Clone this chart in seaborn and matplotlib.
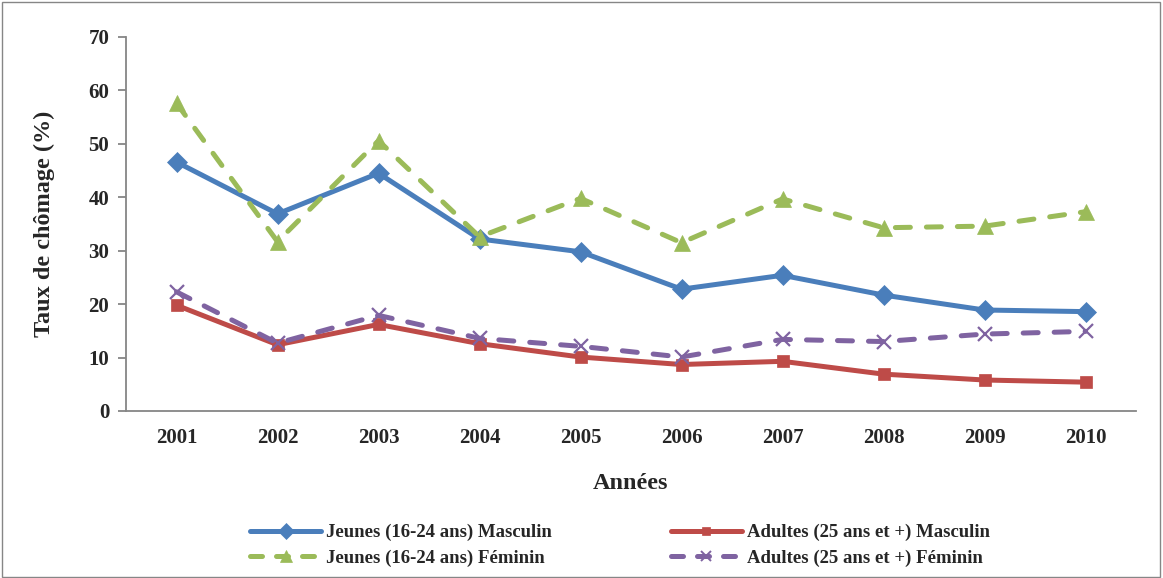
import matplotlib
matplotlib.use("Agg")
import matplotlib.pyplot as plt
from matplotlib.patches import Rectangle
from matplotlib.lines import Line2D
import pandas as pd
import seaborn as sns

years = ["2001", "2002", "2003", "2004", "2005", "2006", "2007", "2008", "2009", "2010"]
jeunes_masculin = [46.6, 36.9, 44.5, 32.2, 29.8, 22.8, 25.4, 21.7, 18.9, 18.6]
adultes_masculin = [19.8, 12.4, 16.2, 12.6, 10.1, 8.7, 9.3, 6.9, 5.8, 5.4]
jeunes_feminin = [57.6, 31.7, 50.6, 32.6, 39.8, 31.5, 39.7, 34.3, 34.6, 37.3]
adultes_feminin = [22.3, 12.7, 17.9, 13.6, 12.1, 10.1, 13.4, 13.0, 14.4, 14.9]

series_names = [
    "Jeunes (16-24 ans) Masculin",
    "Jeunes (16-24 ans) Féminin",
    "Adultes (25 ans et +) Masculin",
    "Adultes (25 ans et +) Féminin",
]
series_values = [jeunes_masculin, jeunes_feminin, adultes_masculin, adultes_feminin]

sns.set_theme(style="white")
plt.rcParams["font.family"] = ["Liberation Serif", "DejaVu Serif"]
plt.rcParams["font.weight"] = "bold"

colors = {
    series_names[0]: "#4a7ebb",
    series_names[1]: "#9bbb59",
    series_names[2]: "#be4b48",
    series_names[3]: "#7f63a1",
}
markers = {
    series_names[0]: "D",
    series_names[1]: "^",
    series_names[2]: "s",
    series_names[3]: "x",
}
msizes = {series_names[0]: 10.5, series_names[1]: 11, series_names[2]: 8.5, series_names[3]: 10}
dashed = {series_names[0]: False, series_names[1]: True, series_names[2]: False, series_names[3]: True}

fig = plt.figure(figsize=(11.63, 5.78), dpi=100)
ax = fig.add_axes([126 / 1163, 1 - 411 / 578, (1136 - 126) / 1163, (411 - 37) / 578])

lw = 3.6
handles = []
for name, vals in zip(series_names, series_values):
    df = pd.DataFrame({"Année": years, "Taux": vals})
    sns.lineplot(data=df, x="Année", y="Taux", ax=ax, color=colors[name],
                 linewidth=lw, marker=markers[name], markersize=msizes[name],
                 markeredgecolor=colors[name], markeredgewidth=1.6 if markers[name] == "x" else 0.5,
                 sort=False, legend=False)
    line = ax.lines[-1]
    line.set_solid_capstyle("round")
    if dashed[name]:
        line.set_dash_capstyle("round")
        line.set_dashes([3.0, 3.2])
    h = Line2D([0], [0], color=colors[name], linewidth=lw, marker=markers[name],
               markersize=msizes[name] * 0.75, markeredgecolor=colors[name],
               markeredgewidth=1.4 if markers[name] == "x" else 0.5,
               solid_capstyle="round", dash_capstyle="round",
               linestyle=(0, (2.4, 2.8)) if dashed[name] else "-")
    handles.append(h)

ax.set_ylim(0, 70)
ax.set_yticks(range(0, 71, 10))
ax.set_xlim(-0.5, len(years) - 0.5)
ax.set_xticks(range(len(years)))
ax.set_xticklabels(years)
ax.set_xticks([i - 0.5 for i in range(len(years) + 1)], minor=True)
ax.tick_params(axis="x", which="major", length=0, pad=12.5, labelsize=15)
ax.tick_params(axis="x", which="minor", length=6, width=1.3, color="#868686", direction="out")
ax.tick_params(axis="y", which="major", length=6, width=1.3, color="#868686", direction="out",
               pad=6, labelsize=15, left=True)
for lbl in ax.get_xticklabels() + ax.get_yticklabels():
    lbl.set_fontweight("bold")

sns.despine(ax=ax, top=True, right=True)
for side in ["left", "bottom"]:
    ax.spines[side].set_color("#868686")
    ax.spines[side].set_linewidth(1.3)

ax.set_xlabel("Années", fontsize=17.5, fontweight="bold", labelpad=18)
ax.set_ylabel("Taux de chômage (%)", fontsize=17.5, fontweight="bold", labelpad=24)

leg = fig.legend(handles=handles, labels=series_names, ncol=2, loc="center",
                 bbox_to_anchor=(620 / 1163, 1 - 545.5 / 578), frameon=False,
                 prop={"family": "Liberation Serif", "weight": "bold", "size": 13.5},
                 handlelength=3.8, columnspacing=6.3, labelspacing=0.44, handletextpad=0.27)

fig.patches.append(Rectangle((2 / 1163, 1 / 578), 1158 / 1163, 575 / 578,
                             transform=fig.transFigure, fill=False,
                             edgecolor="#868686", linewidth=1.0))

fig.savefig("out.png", dpi=100)
